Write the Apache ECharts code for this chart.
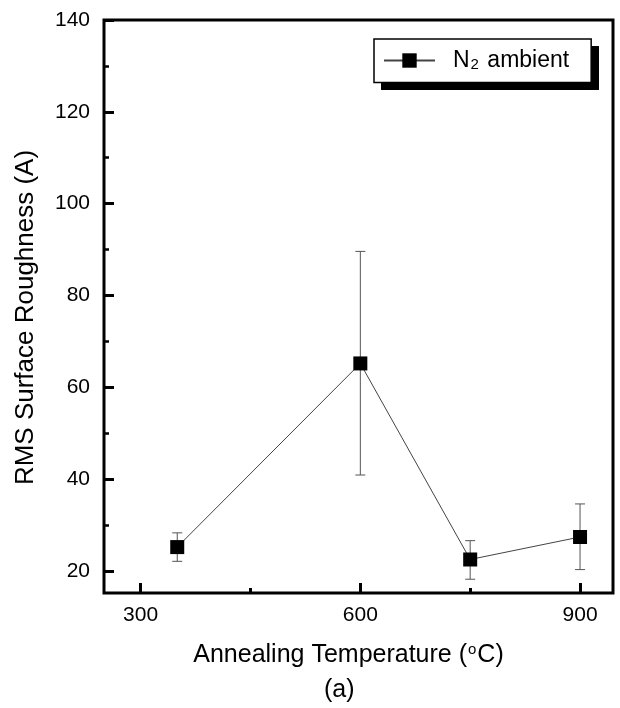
<!DOCTYPE html>
<html>
<head>
<meta charset="utf-8">
<script src="https://cdn.jsdelivr.net/npm/echarts@6/dist/echarts.min.js"></script>
<style>html,body{margin:0;padding:0;background:#fff}#c{width:620px;height:708px}</style>
</head>
<body>
<div id="c"></div>
<script>
// ---- data ----
const temps = [350, 600, 750, 900];
const roughness = [25.2, 65.2, 22.5, 27.4];
const errLow = [22.1, 40.9, 18.2, 20.3];
const errHigh = [28.3, 89.6, 26.6, 34.6];
const xTicks = [300, 600, 900];
const xMinorTicks = [450, 750];
const yTicks = [20, 40, 60, 80, 100, 120, 140];
const yMinorTicks = [30, 50, 70, 90, 110, 130];
const seriesName = 'N2 ambient';

const FONT = '"Liberation Sans", Arial, Helvetica, sans-serif';
const X_MIN = 250, X_MAX = 945, Y_MIN = 15.2, Y_MAX = 140;

const chart = echarts.init(document.getElementById('c'), null, {renderer: 'canvas'});

const baseX = {
  type: 'value', min: X_MIN, max: X_MAX, gridIndex: 0,
  splitLine: {show: false}, axisLine: {show: false}
};
const baseY = {
  type: 'value', min: Y_MIN, max: Y_MAX, gridIndex: 0,
  splitLine: {show: false}, axisLine: {show: false}
};

const option = {
  backgroundColor: '#fff',
  animation: false,
  grid: {left: 104, right: 7, top: 20, bottom: 115, show: true, borderColor: '#000', borderWidth: 3, backgroundColor: 'transparent'},
  legend: {
    data: [seriesName],
    left: 374, top: 39, z: 10,
    padding: [10, 22, 10, 9],
    itemWidth: 51, itemHeight: 18,
    backgroundColor: '#fff',
    borderColor: '#000', borderWidth: 1.5,
    selectedMode: false,
    formatter: () => '{n0|N}{s|2}{n| ambient}',
    textStyle: {
      rich: {
        n0: {fontSize: 23, fontFamily: FONT, color: '#000', lineHeight: 24, padding: [0, 0, 0, 13]},
        n: {fontSize: 23, fontFamily: FONT, color: '#000', lineHeight: 24},
        s: {fontSize: 15, fontFamily: FONT, color: '#000', lineHeight: 12, verticalAlign: 'bottom', padding: [0, 2, 0, 1]}
      }
    }
  },
  xAxis: [
    Object.assign({}, baseX, {
      position: 'bottom',
      name: '{t|Annealing Temperature (}{p|o}{t|C)}',
      nameLocation: 'middle', nameGap: 49,
      nameTextStyle: {
        padding: [0, 20, 0, 0],
        rich: {
          t: {fontSize: 25, fontFamily: FONT, color: '#000', lineHeight: 27},
          p: {fontSize: 15, fontFamily: FONT, color: '#000', lineHeight: 15, verticalAlign: 'top', padding: [0, 1, 0, 1]}
        }
      },
      axisTick: {show: true, inside: true, length: 10, lineStyle: {color: '#000', width: 3}, customValues: xTicks},
      axisLabel: {show: true, margin: 12, fontSize: 21, fontFamily: FONT, color: '#000', customValues: xTicks}
    }),
    Object.assign({}, baseX, {
      position: 'bottom',
      axisTick: {show: true, inside: true, length: 5, lineStyle: {color: '#000', width: 3}, customValues: xMinorTicks},
      axisLabel: {show: false}
    })
  ],
  yAxis: [
    Object.assign({}, baseY, {
      position: 'left',
      name: 'RMS Surface Roughness (A)',
      nameLocation: 'middle', nameGap: 65,
      nameTextStyle: {fontSize: 26, fontFamily: FONT, color: '#000', padding: [0, 22, 0, 0]},
      axisTick: {show: true, inside: true, length: 10, lineStyle: {color: '#000', width: 3}, customValues: yTicks},
      axisLabel: {show: true, margin: 14, fontSize: 21, fontFamily: FONT, color: '#000', customValues: yTicks}
    }),
    Object.assign({}, baseY, {
      position: 'left',
      axisTick: {show: true, inside: true, length: 5, lineStyle: {color: '#000', width: 2.5}, customValues: yMinorTicks},
      axisLabel: {show: false}
    })
  ],
  graphic: [
    {type: 'rect', left: 381, top: 46, z: 1, shape: {width: 218, height: 44}, style: {fill: '#000'}},
    {type: 'text', left: 324, top: 678, style: {text: '(a)', font: '25px ' + FONT, fill: '#000'}}
  ],
  series: [
    {
      type: 'custom', name: 'err', z: 2, xAxisIndex: 0, yAxisIndex: 0,
      data: temps.map((t, i) => [t, errLow[i], errHigh[i]]),
      encode: {x: 0, y: [1, 2]},
      renderItem: (params, api) => {
        const x = api.value(0);
        const lo = api.coord([x, api.value(1)]);
        const hi = api.coord([x, api.value(2)]);
        const cw = 5;
        const st = {stroke: '#555', lineWidth: 1};
        return {type: 'group', children: [
          {type: 'line', shape: {x1: lo[0], y1: lo[1], x2: hi[0], y2: hi[1]}, style: st},
          {type: 'line', shape: {x1: lo[0] - cw, y1: lo[1], x2: lo[0] + cw, y2: lo[1]}, style: st},
          {type: 'line', shape: {x1: hi[0] - cw, y1: hi[1], x2: hi[0] + cw, y2: hi[1]}, style: st}
        ]};
      }
    },
    {
      type: 'line', name: seriesName, z: 4, xAxisIndex: 0, yAxisIndex: 0,
      data: temps.map((t, i) => [t, roughness[i]]),
      symbol: 'rect', symbolSize: 14,
      itemStyle: {color: '#000'},
      lineStyle: {color: '#444', width: 1}
    }
  ]
};
chart.setOption(option);
</script>
</body>
</html>
